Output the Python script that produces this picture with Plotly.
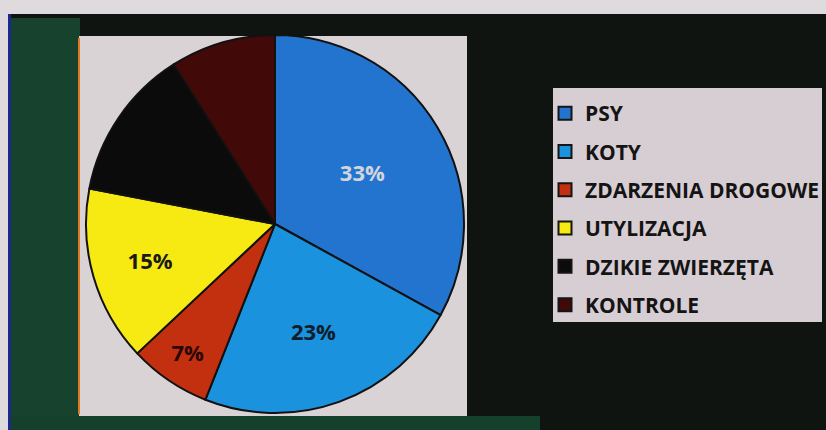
import plotly.graph_objects as go

labels = ["PSY", "KOTY", "ZDARZENIA DROGOWE", "UTYLIZACJA", "DZIKIE ZWIERZĘTA", "KONTROLE"]
values = [33, 23, 7, 15, 13, 9]
colors = ["#2274cf", "#1b92de", "#c2300f", "#f6ea12", "#0b0b0b", "#420909"]
text_colors = ["#d4d4dc", "#0f1d2c", "#2a0806", "#1a1a1a", "#0b0b0b", "#420909"]

W, H = 826, 430

def px(x):
    return x / W

def py(y):
    return 1 - y / H

fig = go.Figure()

# pie
cx, cy, r = 275, 224, 189
fig.add_trace(go.Pie(
    labels=labels, values=values, sort=False, direction="clockwise", rotation=0,
    marker=dict(colors=colors, line=dict(color="#111111", width=2)),
    textinfo="percent", textposition="inside", insidetextorientation="horizontal",
    textfont=dict(family="Open Sans", size=22, color=text_colors, weight="bold"),
    domain=dict(x=[px(cx - r), px(cx + r)], y=[py(cy + r), py(cy - r)]),
    showlegend=False, hoverinfo="label+percent",
))

# legend entries (one group each for spacing)
for lab, col in zip(labels, colors):
    fig.add_trace(go.Scatter(
        x=[None], y=[None], mode="markers", name=lab, legendgroup=lab,
        marker=dict(symbol="square", size=13, color=col, line=dict(color="#151515", width=2)),
        showlegend=True,
    ))

shapes = [
    # top light strip
    dict(type="rect", xref="paper", yref="paper", x0=0, x1=1, y0=py(14), y1=1,
         fillcolor="#dedadd", line=dict(width=0), layer="below"),
    # left light strip
    dict(type="rect", xref="paper", yref="paper", x0=0, x1=px(8), y0=0, y1=1,
         fillcolor="#dedadd", line=dict(width=0), layer="below"),
    # thin blue edge
    dict(type="rect", xref="paper", yref="paper", x0=px(8), x1=px(11), y0=0, y1=py(14),
         fillcolor="#1a2a8a", line=dict(width=0), layer="below"),
    # green left band
    dict(type="rect", xref="paper", yref="paper", x0=px(11), x1=px(80), y0=0, y1=py(18),
         fillcolor="#17432e", line=dict(width=0), layer="below"),
    # green bottom band
    dict(type="rect", xref="paper", yref="paper", x0=px(11), x1=px(540), y0=0, y1=py(416),
         fillcolor="#15402b", line=dict(width=0), layer="below"),
    # plot area
    dict(type="rect", xref="paper", yref="paper", x0=px(79), x1=px(467), y0=py(416), y1=py(36),
         fillcolor="#d9d3d6", line=dict(width=0), layer="below"),
    # orange edge line
    dict(type="rect", xref="paper", yref="paper", x0=px(78), x1=px(80), y0=py(414), y1=py(38),
         fillcolor="#e07a20", line=dict(width=0), layer="below"),
    # legend box
    dict(type="rect", xref="paper", yref="paper", x0=px(553), x1=px(822), y0=py(322), y1=py(88),
         fillcolor="#d7ced3", line=dict(width=0), layer="below"),
]

fig.update_layout(
    width=W, height=H,
    margin=dict(l=0, r=0, t=0, b=0, autoexpand=False),
    paper_bgcolor="#0f1411",
    plot_bgcolor="rgba(0,0,0,0)",
    xaxis=dict(visible=False, domain=[0.99, 1]),
    yaxis=dict(visible=False, domain=[0.99, 1]),
    shapes=shapes,
    legend=dict(
        x=px(545), y=py(93), xanchor="left", yanchor="top",
        bgcolor="rgba(0,0,0,0)", borderwidth=0,
        font=dict(family="Open Sans", size=21, color="#141414", weight="bold"),
        tracegroupgap=8, itemwidth=30,
    ),
)

fig.write_html(
    "out.html", config={"displayModeBar": False},
    post_script=("document.documentElement.style.margin='0px';"
                 "document.documentElement.style.overflow='hidden';"
                 "document.body.style.margin='0px';"
                 "document.body.style.overflow='hidden';"),
)
